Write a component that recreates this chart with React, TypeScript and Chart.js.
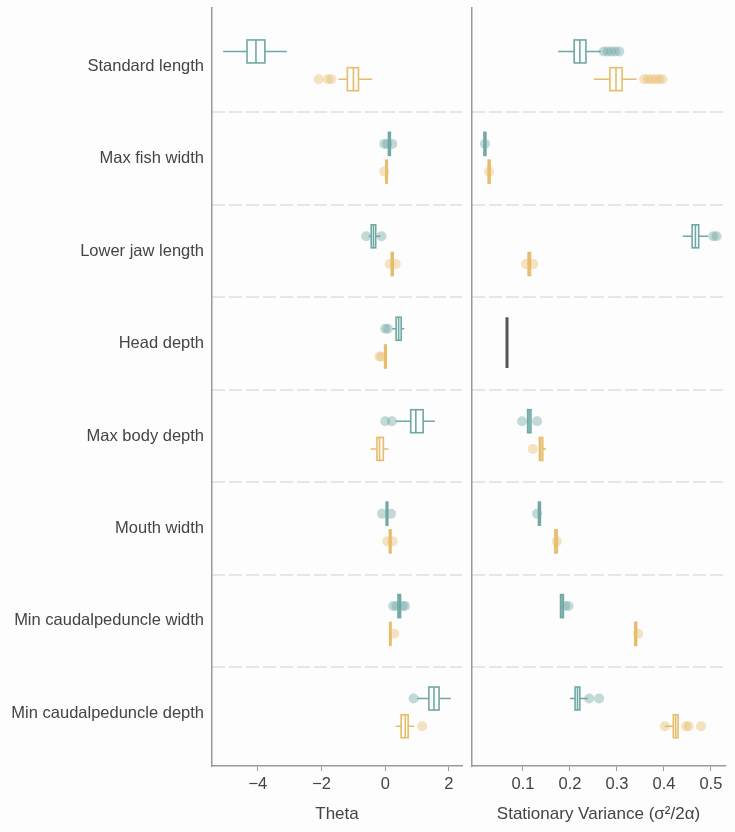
import React, { useEffect, useRef } from "react";
import { Chart, registerables } from "chart.js";

Chart.register(...registerables);

const traits = [
  "Standard length",
  "Max fish width",
  "Lower jaw length",
  "Head depth",
  "Max body depth",
  "Mouth width",
  "Min caudalpeduncle width",
  "Min caudalpeduncle depth",
];

type Box = [number, number, number, number, number] | null;

// [whisker low, Q1, median, Q3, whisker high]
const thetaTealBox: Box[] = [
  [-5.09, -4.34, -4.06, -3.78, -3.09],
  [0.1, 0.1, 0.13, 0.16, 0.16],
  [-0.52, -0.44, -0.37, -0.3, -0.15],
  [0.22, 0.34, 0.42, 0.5, 0.6],
  [0.33, 0.8, 0.96, 1.19, 1.56],
  [0.03, 0.03, 0.05, 0.08, 0.08],
  [0.4, 0.4, 0.44, 0.48, 0.48],
  [1.0, 1.37, 1.53, 1.69, 2.06],
];
const thetaTealPts: number[][] = [
  [],
  [-0.03, 0.06, 0.22],
  [-0.6, -0.12],
  [0.0, 0.08],
  [0.0, 0.21],
  [-0.1, 0.18],
  [0.25, 0.35, 0.55, 0.62],
  [0.89],
];
const thetaGoldBox: Box[] = [
  [-1.47, -1.19, -1.0, -0.84, -0.41],
  [0.02, 0.02, 0.04, 0.06, 0.06],
  [0.19, 0.19, 0.22, 0.25, 0.25],
  [-0.02, -0.02, 0.0, 0.03, 0.03],
  [-0.46, -0.26, -0.18, -0.06, 0.1],
  [0.13, 0.13, 0.15, 0.18, 0.18],
  [0.14, 0.14, 0.16, 0.18, 0.18],
  [0.33, 0.5, 0.63, 0.72, 0.91],
];
const thetaGoldPts: number[][] = [
  [-2.09, -1.8, -1.69],
  [-0.03],
  [0.14, 0.33],
  [-0.18, -0.12],
  [],
  [0.06, 0.23],
  [0.28],
  [1.16],
];

const varTealBox: Box[] = [
  [0.175, 0.209, 0.221, 0.234, 0.266],
  [0.017, 0.017, 0.019, 0.021, 0.021],
  [0.44, 0.46, 0.467, 0.474, 0.494],
  null,
  [0.11, 0.11, 0.113, 0.117, 0.117],
  [0.133, 0.133, 0.135, 0.137, 0.137],
  [0.179, 0.18, 0.183, 0.186, 0.186],
  [0.2, 0.211, 0.216, 0.221, 0.238],
];
const varTealPts: number[][] = [
  [0.272, 0.28, 0.288, 0.296, 0.305],
  [0.019],
  [0.505, 0.512],
  [],
  [0.098, 0.13],
  [0.13],
  [0.19, 0.197],
  [0.241, 0.262],
];
const varGoldBox: Box[] = [
  [0.251, 0.285, 0.298, 0.311, 0.342],
  [0.026, 0.026, 0.028, 0.03, 0.03],
  [0.111, 0.111, 0.113, 0.116, 0.116],
  null,
  [0.135, 0.135, 0.138, 0.142, 0.149],
  [0.168, 0.168, 0.17, 0.173, 0.173],
  [0.338, 0.338, 0.34, 0.342, 0.342],
  [0.402, 0.42, 0.425, 0.43, 0.43],
];
const varGoldPts: number[][] = [
  [0.358, 0.366, 0.374, 0.382, 0.39, 0.397],
  [0.028],
  [0.106, 0.122],
  [],
  [0.121],
  [0.172],
  [0.345],
  [0.402, 0.447, 0.453, 0.479],
];
// shared (identical) stationary variance shown as one dark bar
const varShared: (number | null)[] = [null, null, null, 0.066, null, null, null, null];

const thetaTicks = [-4, -2, 0, 2];
const varTicks = [0.1, 0.2, 0.3, 0.4, 0.5];
const sepValues = [0.5, 1.5, 2.5, 3.5, 4.5, 5.5, 6.5];

const BG = "#fdfdfd";
const TEAL = "#6fa8a4";
const GOLD = "#e6bd6b";
const TEAL_PT = "rgba(111,168,164,0.42)";
const GOLD_PT = "rgba(230,189,107,0.42)";
const AXIS = "#9a9a9a";
const TEXT = "#444444";
const FONT = "'Liberation Sans', Arial, sans-serif";
const Y_MIN = -0.63;
const Y_MAX = 7.57;
const TEAL_OFF = -0.16;
const GOLD_OFF = 0.14;
const HALF = 11.5;

interface PanelProps {
  left: number;
  width: number;
  padLeft: number;
  padRight: number;
  yWidth: number;
  showLabels: boolean;
  xMin: number;
  xMax: number;
  xTicks: number[];
  fmt: (v: number) => string;
  title: string;
  tealBox: Box[];
  tealPts: number[][];
  goldBox: Box[];
  goldPts: number[][];
  shared?: (number | null)[];
}

function Panel(p: PanelProps) {
  const ref = useRef<HTMLCanvasElement | null>(null);
  useEffect(() => {
    if (!ref.current) return;
    const series = [
      { boxes: p.tealBox, offset: TEAL_OFF, color: TEAL },
      { boxes: p.goldBox, offset: GOLD_OFF, color: GOLD },
    ];
    const boxPlugin = {
      id: "boxes",
      beforeDatasetsDraw(chart: any) {
        const { ctx } = chart;
        const x = chart.scales.x;
        const y = chart.scales.y;
        ctx.save();
        for (const s of series) {
          s.boxes.forEach((b, i) => {
            if (!b) return;
            const yc = y.getPixelForValue(i + s.offset);
            const [lo, q1, md, q3, hi] = b.map((v) => x.getPixelForValue(v));
            ctx.strokeStyle = s.color;
            ctx.lineWidth = 1.6;
            ctx.beginPath();
            ctx.moveTo(lo, yc);
            ctx.lineTo(q1, yc);
            ctx.moveTo(q3, yc);
            ctx.lineTo(hi, yc);
            ctx.stroke();
            ctx.fillStyle = BG;
            ctx.fillRect(q1, yc - HALF, q3 - q1, 2 * HALF);
            ctx.strokeRect(q1, yc - HALF, q3 - q1, 2 * HALF);
            ctx.beginPath();
            ctx.moveTo(md, yc - HALF);
            ctx.lineTo(md, yc + HALF);
            ctx.stroke();
          });
        }
        (p.shared || []).forEach((v, i) => {
          if (v == null) return;
          const px = x.getPixelForValue(v);
          ctx.strokeStyle = "#555555";
          ctx.lineWidth = 3;
          ctx.beginPath();
          ctx.moveTo(px, y.getPixelForValue(i + TEAL_OFF) - HALF);
          ctx.lineTo(px, y.getPixelForValue(i + GOLD_OFF) + HALF);
          ctx.stroke();
        });
        ctx.restore();
      },
    };
    const toPts = (arr: number[][], off: number) =>
      arr.flatMap((vals, i) => vals.map((v) => ({ x: v, y: i + off })));

    const chart = new Chart(ref.current, {
      type: "scatter",
      data: {
        datasets: [
          {
            data: toPts(p.tealPts, TEAL_OFF),
            backgroundColor: TEAL_PT,
            borderWidth: 0,
            pointRadius: 5,
          },
          {
            data: toPts(p.goldPts, GOLD_OFF),
            backgroundColor: GOLD_PT,
            borderWidth: 0,
            pointRadius: 5,
          },
        ],
      },
      plugins: [boxPlugin],
      options: {
        animation: false,
        responsive: false,
        devicePixelRatio: 1,
        events: [],
        layout: { padding: { top: 8, left: p.padLeft, right: p.padRight, bottom: 0 } },
        plugins: { legend: { display: false }, tooltip: { enabled: false } },
        scales: {
          x: {
            type: "linear",
            min: p.xMin,
            max: p.xMax,
            afterBuildTicks: (s: any) => {
              s.ticks = p.xTicks.map((v) => ({ value: v }));
            },
            afterFit: (s: any) => {
              s.height = 66;
              s.paddingLeft = 0;
              s.paddingRight = 0;
            },
            ticks: {
              autoSkip: false,
              maxRotation: 0,
              padding: 4,
              color: TEXT,
              font: { family: FONT, size: 16.5 },
              callback: (v: any) => p.fmt(Number(v)),
            },
            grid: {
              drawOnChartArea: false,
              drawTicks: true,
              tickLength: 5,
              color: AXIS,
              lineWidth: 1,
            },
            border: { display: true, color: AXIS, width: 1.5 },
            title: {
              display: true,
              text: p.title,
              color: TEXT,
              font: { family: FONT, size: 17 },
              padding: { top: 0, bottom: 7 },
            },
          },
          y: {
            type: "linear",
            position: "left",
            min: Y_MIN,
            max: Y_MAX,
            reverse: true,
            afterBuildTicks: (s: any) => {
              s.ticks = traits.map((_, i) => ({ value: i }));
            },
            afterFit: (s: any) => {
              s.width = p.yWidth;
              s.paddingTop = 0;
              s.paddingBottom = 0;
            },
            ticks: {
              display: p.showLabels,
              autoSkip: false,
              padding: 8,
              color: TEXT,
              font: { family: FONT, size: 16.5 },
              callback: (v: any) => traits[Number(v)] ?? "",
            },
            grid: { display: false, drawTicks: false },
            border: { display: true, color: AXIS, width: 1.5 },
          },
          ysep: {
            type: "linear",
            position: "right",
            min: Y_MIN,
            max: Y_MAX,
            reverse: true,
            afterBuildTicks: (s: any) => {
              s.ticks = sepValues.map((v) => ({ value: v }));
            },
            afterFit: (s: any) => {
              s.width = 0;
              s.paddingTop = 0;
              s.paddingBottom = 0;
            },
            ticks: { display: false },
            grid: { drawTicks: false, color: "#e6e6e6", lineWidth: 2 },
            border: { display: false, dash: [13, 4] },
          },
        },
      } as any,
    });
    return () => chart.destroy();
  }, []);
  return (
    <canvas
      ref={ref}
      width={p.width}
      height={832}
      style={{ position: "absolute", left: p.left, top: 0, width: p.width, height: 832 }}
    />
  );
}

export default function App() {
  return (
    <div
      style={{
        position: "fixed",
        left: 0,
        top: 0,
        width: 735,
        height: 832,
        background: BG,
        overflow: "hidden",
      }}
    >
      <Panel
        left={0}
        width={467}
        padLeft={0}
        padRight={4}
        yWidth={212}
        showLabels={true}
        xMin={-5.44}
        xMax={2.41}
        xTicks={thetaTicks}
        fmt={(v) => (v < 0 ? "\u2212" + Math.abs(v) : String(v))}
        title="Theta"
        tealBox={thetaTealBox}
        tealPts={thetaTealPts}
        goldBox={thetaGoldBox}
        goldPts={thetaGoldPts}
      />
      <Panel
        left={467}
        width={268}
        padLeft={5}
        padRight={10}
        yWidth={0}
        showLabels={false}
        xMin={-0.0085}
        xMax={0.53}
        xTicks={varTicks}
        fmt={(v) => v.toFixed(1)}
        title={"Stationary Variance (\u03C3\u00B2/2\u03B1)"}
        tealBox={varTealBox}
        tealPts={varTealPts}
        goldBox={varGoldBox}
        goldPts={varGoldPts}
        shared={varShared}
      />
    </div>
  );
}
